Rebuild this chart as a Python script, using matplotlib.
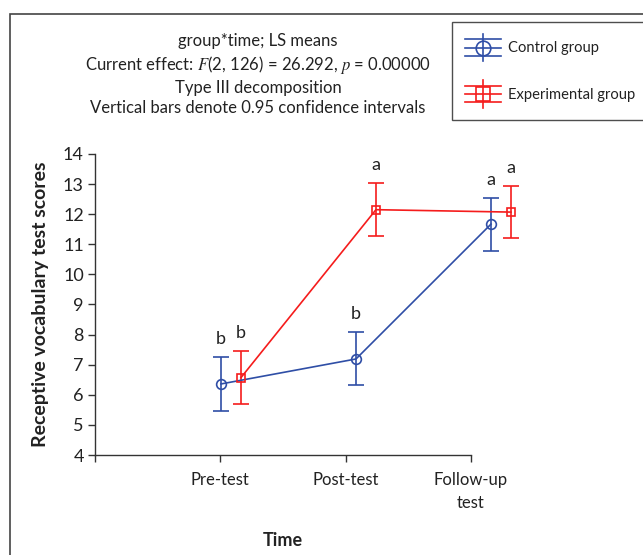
import numpy as np
import matplotlib
matplotlib.use('Agg')
from matplotlib import pyplot as plt
from matplotlib.legend_handler import HandlerBase
from matplotlib.lines import Line2D
from matplotlib.patches import Rectangle

# data
time_labels = ['Pre-test', 'Post-test', 'Follow-up\ntest']
control_mean = [6.36, 7.19, 11.67]
control_low = [5.47, 6.32, 10.79]
control_high = [7.25, 8.09, 12.55]
exp_mean = [6.57, 12.15, 12.07]
exp_low = [5.68, 11.29, 11.20]
exp_high = [7.45, 13.04, 12.95]
control_letters = ['b', 'b', 'a']
exp_letters = ['b', 'a', 'a']

BLUE = '#2f4ea6'
RED = '#f51c1c'
TEXT = '#222222'

plt.rcParams['font.family'] = ['Lato', 'DejaVu Sans']
plt.rcParams['mathtext.fontset'] = 'stix'


class StatHandler(HandlerBase):
    # STATISTICA-like legend key: line, marker, whisker with wide caps
    def __init__(self, marker, color, ms):
        super().__init__()
        self.marker = marker
        self.color = color
        self.ms = ms

    def create_artists(self, legend, orig_handle, xdescent, ydescent,
                       width, height, fontsize, trans):
        cy = height / 2 - ydescent
        cx = width / 2 - xdescent
        x0, x1 = -xdescent, width - xdescent
        cap = height * 0.31
        bar = height * 0.53
        arts = [
            Line2D([x0, x1], [cy, cy], color=self.color, lw=1.2),
            Line2D([x0, x1], [cy + cap, cy + cap], color=self.color, lw=1.2),
            Line2D([x0, x1], [cy - cap, cy - cap], color=self.color, lw=1.2),
            Line2D([cx, cx], [cy - bar, cy + bar], color=self.color, lw=1.2),
            Line2D([cx], [cy], marker=self.marker, ms=self.ms, mfc='none',
                   mec=self.color, mew=1.2, color=self.color),
        ]
        for a in arts:
            a.set_transform(trans)
        return arts


fig = plt.figure(figsize=(6.43, 5.55), dpi=100)

# outer frame (cut off by the page at right and bottom)
fig.patches.append(Rectangle((10 / 643, -0.05), 1.2, 1 - 14 / 555 + 0.05,
                             transform=fig.transFigure, fill=False,
                             edgecolor='#444444', lw=1.2))

ax = fig.add_axes([95 / 643, 1 - 455 / 555, 376 / 643, 301 / 555])
ax.set_xlim(0, 3)
ax.set_ylim(4, 14)
ax.set_yticks(np.arange(4, 15, 1))
ax.set_xticks([0, 1, 2, 3])
ax.set_xticklabels([''] + time_labels)
for t in ax.get_xticklabels():
    t.set_linespacing(1.6)
for s in ['top', 'right']:
    ax.spines[s].set_visible(False)
for s in ['left', 'bottom']:
    ax.spines[s].set_color('#333333')
    ax.spines[s].set_linewidth(1.0)
ax.tick_params(direction='out', length=5, width=1.0, color='#333333',
               labelcolor=TEXT)
ax.tick_params(axis='y', labelsize=13, pad=3)
ax.tick_params(axis='x', labelsize=12, pad=7)
ax.set_ylabel('Receptive vocabulary test scores', fontsize=14,
              fontweight='bold', color=TEXT, labelpad=10)
ax.set_xlabel('Time', fontsize=13, fontweight='bold', color=TEXT, labelpad=15)

# data layer: points sit a bit to the right of the category ticks
dax = ax.twiny()
dax.set_xlim(-0.007, 2.778)
dax.set_ylim(4, 14)
dax.axis('off')

idx = np.arange(1, len(time_labels) + 1)
dodge = 0.074
series = [
    (idx - dodge, control_mean, control_low, control_high, control_letters, BLUE, 'o', 7),
    (idx + dodge, exp_mean, exp_low, exp_high, exp_letters, RED, 's', 6),
]
for xs, m, lo, hi, letters, col, mk, ms in series:
    m = np.array(m)
    yerr = [m - np.array(lo), np.array(hi) - m]
    eb = dax.errorbar(xs, m, yerr=yerr, color=col, lw=1.2, marker=mk, ms=ms,
                      mfc='none', mec=col, mew=1.2, capsize=6, capthick=1.2)
    for art in eb.get_children():
        art.set_clip_on(False)
    for x, top, lab in zip(xs, hi, letters):
        dax.annotate(lab, (x, top), xytext=(0, 7), textcoords='offset points',
                     ha='center', va='bottom', fontsize=13, color=TEXT,
                     annotation_clip=False)

fig.text(258 / 643, 1 - 33 / 555,
         'group*time; LS means\n'
         'Current effect: $F$(2, 126) = 26.292, $p$ = 0.00000\n'
         'Type III decomposition\n'
         'Vertical bars denote 0.95 confidence intervals',
         ha='center', va='top', fontsize=12, color=TEXT, linespacing=1.3)

h1 = Line2D([], [])
h2 = Line2D([], [])
leg = fig.legend([h1, h2], ['Control group', 'Experimental group'],
                 handler_map={h1: StatHandler('o', BLUE, 10.5),
                              h2: StatHandler('s', RED, 9.5)},
                 loc='upper left', bbox_to_anchor=(452 / 643, 1 - 22 / 555),
                 fontsize=10.6, frameon=True, fancybox=False, edgecolor='#222222',
                 handlelength=2.5, handleheight=2.35, labelspacing=1.4,
                 borderpad=0.85, handletextpad=0.45, borderaxespad=0)
leg.get_frame().set_linewidth(1.0)
for t in leg.get_texts():
    t.set_color(TEXT)

fig.savefig('out.png', dpi=100)
